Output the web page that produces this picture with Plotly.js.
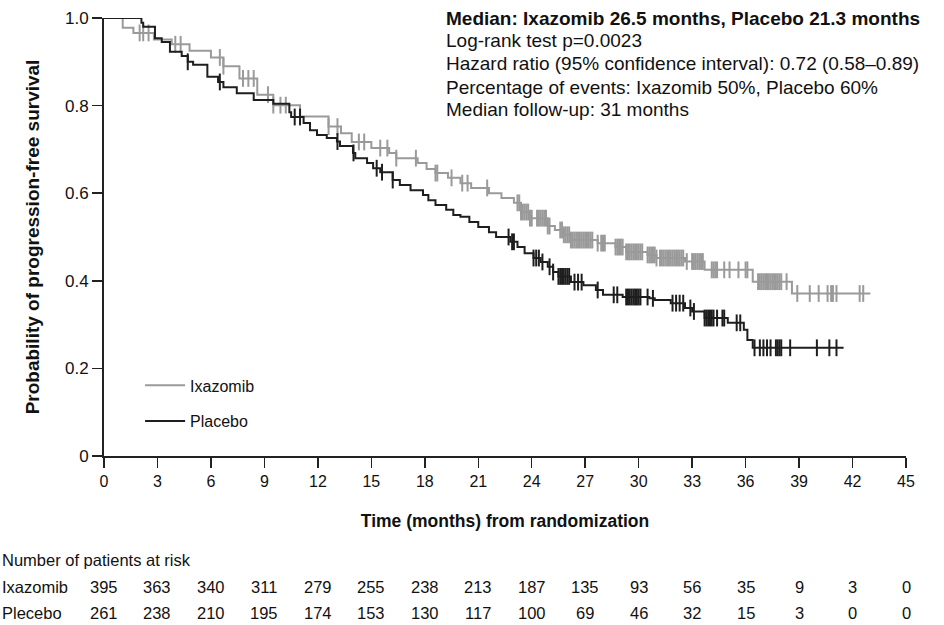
<!DOCTYPE html>
<html>
<head>
<meta charset="utf-8">
<script src="https://cdn.plot.ly/plotly-3.0.1.min.js"></script>
<style>html,body{margin:0;padding:0;background:#fff;}#chart{width:944px;height:625px;}</style>
</head>
<body>
<div id="chart"></div>
<script>
// Kaplan-Meier step data (time in months, survival probability)
const ixaTime = [0, 1.05, 1.65, 2.8, 3.8, 4.8, 6.0, 6.7, 7.6, 8.6, 9.5, 11.0, 12.6, 13.3, 13.9, 15.0, 16.0, 16.4, 17.6, 18.1, 18.6, 19.3, 20.0, 20.6, 21.6, 22.3, 23.0, 23.4, 23.9, 24.9, 25.3, 25.8, 26.2, 27.7, 28.7, 29.3, 30.5, 31.0, 32.6, 33.7, 36.4, 38.6, 43.0];
const ixaSurv = [1.0, 0.978, 0.966, 0.951, 0.94, 0.925, 0.91, 0.89, 0.862, 0.825, 0.801, 0.775, 0.752, 0.737, 0.717, 0.703, 0.692, 0.68, 0.669, 0.655, 0.646, 0.635, 0.623, 0.612, 0.6, 0.589, 0.578, 0.557, 0.543, 0.525, 0.516, 0.505, 0.493, 0.486, 0.477, 0.466, 0.459, 0.452, 0.444, 0.425, 0.398, 0.371, 0.371];
const ixaCensor = [2.0, 2.2, 2.5, 4.0, 4.3, 6.5, 6.7, 7.8, 8.1, 8.4, 9.2, 9.5, 9.9, 10.2, 12.6, 13.1, 14.3, 14.6, 15.5, 15.9, 16.4, 17.5, 18.6, 18.7, 19.5, 20.1, 20.4, 21.5, 23.2, 23.3, 23.4, 23.5, 23.6, 23.7, 23.8, 23.9, 24.0, 24.3, 24.4, 24.5, 24.6, 24.7, 24.8, 24.9, 25.0, 25.6, 25.7, 25.8, 25.9, 26.0, 26.1, 26.2, 26.3, 26.4, 26.5, 26.6, 26.7, 26.8, 26.9, 27.0, 27.1, 27.2, 27.3, 27.4, 27.7, 27.9, 28.0, 28.1, 28.7, 28.8, 28.9, 29.0, 29.1, 29.3, 29.4, 29.5, 29.6, 29.7, 29.8, 29.9, 30.0, 30.1, 30.2, 30.5, 30.6, 30.7, 30.8, 30.9, 31.0, 31.2, 31.3, 31.4, 31.5, 31.6, 31.7, 31.8, 31.9, 32.0, 32.1, 32.2, 32.3, 32.4, 32.5, 32.7, 33.0, 33.1, 33.2, 33.3, 33.4, 33.5, 33.6, 34.1, 34.2, 34.3, 34.4, 34.8, 35.1, 35.6, 36.0, 36.1, 36.7, 36.8, 36.9, 37.0, 37.1, 37.2, 37.3, 37.4, 37.5, 37.6, 37.7, 37.8, 37.9, 38.0, 38.3, 38.9, 39.6, 40.1, 40.6, 40.8, 40.9, 41.1, 42.4, 42.6];

const plaTime = [0, 2.1, 2.2, 2.86, 3.24, 3.7, 4.36, 4.7, 5.0, 5.8, 6.4, 6.7, 7.45, 8.4, 9.5, 10.4, 10.5, 11.2, 11.56, 11.95, 12.5, 13.07, 13.24, 13.97, 14.1, 14.76, 15.1, 15.5, 16.2, 16.6, 17.2, 17.9, 18.2, 18.6, 19.2, 19.6, 20.0, 20.5, 21.0, 21.6, 22.0, 22.8, 23.2, 23.6, 24.1, 24.5, 24.9, 25.2, 25.5, 26.2, 26.9, 27.6, 28.0, 29.1, 30.6, 30.9, 31.8, 32.6, 33.0, 33.7, 35.0, 35.9, 36.1, 36.4, 41.5];
const plaSurv = [1.0, 0.989, 0.98, 0.954, 0.945, 0.923, 0.913, 0.9, 0.893, 0.866, 0.854, 0.842, 0.828, 0.813, 0.804, 0.785, 0.774, 0.76, 0.744, 0.733, 0.726, 0.718, 0.708, 0.692, 0.68, 0.669, 0.657, 0.648, 0.63, 0.619, 0.607, 0.596, 0.584, 0.573, 0.562, 0.55, 0.546, 0.534, 0.523, 0.511, 0.5, 0.489, 0.477, 0.463, 0.452, 0.443, 0.432, 0.42, 0.41, 0.397, 0.39, 0.379, 0.368, 0.363, 0.36, 0.356, 0.349, 0.338, 0.33, 0.315, 0.304, 0.288, 0.265, 0.247, 0.247];
const plaCensor = [4.7, 6.5, 10.7, 11.0, 13.1, 14.0, 15.3, 15.6, 16.2, 22.7, 22.9, 23.0, 24.1, 24.25, 24.4, 24.6, 25.0, 25.2, 25.5, 25.6, 25.7, 25.8, 25.9, 26.0, 26.1, 26.4, 26.6, 26.8, 27.7, 28.6, 28.8, 29.3, 29.4, 29.5, 29.6, 29.7, 29.8, 29.9, 30.0, 30.1, 30.5, 30.8, 31.9, 32.1, 32.3, 32.5, 32.9, 33.1, 33.7, 33.8, 33.9, 34.0, 34.1, 34.2, 34.4, 34.7, 34.8, 35.5, 35.7, 36.5, 36.8, 37.0, 37.2, 37.4, 37.7, 37.8, 37.9, 38.0, 38.5, 40.0, 40.7, 41.1];

// Axis ticks
const xTicks = [0, 3, 6, 9, 12, 15, 18, 21, 24, 27, 30, 33, 36, 39, 42, 45];
const yTicks = [0, 0.2, 0.4, 0.6, 0.8, 1.0];
const yTickText = ['0', '0.2', '0.4', '0.6', '0.8', '1.0'];

// Number at risk table
const riskTimes = [0, 3, 6, 9, 12, 15, 18, 21, 24, 27, 30, 33, 36, 39, 42, 45];
const ixaRisk = [395, 363, 340, 311, 279, 255, 238, 213, 187, 135, 93, 56, 35, 9, 3, 0];
const plaRisk = [261, 238, 210, 195, 174, 153, 130, 117, 100, 69, 46, 32, 15, 3, 0, 0];

const statLines = [
  '<b>Median: Ixazomib 26.5 months, Placebo 21.3 months</b>',
  'Log-rank test p=0.0023',
  'Hazard ratio (95% confidence interval): 0.72 (0.58–0.89)',
  'Percentage of events: Ixazomib 50%, Placebo 60%',
  'Median follow-up: 31 months'
];

const GRAY = '#9a9a9a';
const BLACK = '#1e1e1e';
const FONT = 'Liberation Sans, Arial, Helvetica, sans-serif';

function survAt(T, S, t) {
  let v = S[0];
  for (let i = 0; i < T.length; i++) { if (T[i] <= t) v = S[i]; else break; }
  return v;
}

const traces = [
  {x: ixaTime, y: ixaSurv, type: 'scatter', mode: 'lines', name: 'Ixazomib', legendgroup: 'a',
   line: {shape: 'hv', color: GRAY, width: 2}},
  {x: ixaCensor, y: ixaCensor.map(t => survAt(ixaTime, ixaSurv, t)), type: 'scatter', mode: 'markers',
   showlegend: false, hoverinfo: 'skip',
   marker: {symbol: 'line-ns', size: 12, color: GRAY, line: {color: GRAY, width: 2}}},
  {x: plaTime, y: plaSurv, type: 'scatter', mode: 'lines', name: 'Placebo', legendgroup: 'b',
   line: {shape: 'hv', color: BLACK, width: 2}},
  {x: plaCensor, y: plaCensor.map(t => survAt(plaTime, plaSurv, t)), type: 'scatter', mode: 'markers',
   showlegend: false, hoverinfo: 'skip',
   marker: {symbol: 'line-ns', size: 12, color: BLACK, line: {color: BLACK, width: 2}}}
];

const annotations = [];
const statY = [1.0, 0.9475, 0.895, 0.842, 0.792];
statLines.forEach((s, i) => {
  annotations.push({xref: 'paper', yref: 'paper', x: 0.424, y: statY[i], xanchor: 'left', yanchor: 'middle',
    text: s, showarrow: false, font: {family: FONT, size: 19, color: '#111'}});
});
const pxToPaperX = px => (px - 104) / 802;
const pxToPaperY = py => (456 - py) / 438;
const TBL = 16.5;
annotations.push({xref: 'paper', yref: 'paper', x: pxToPaperX(0), y: pxToPaperY(560), xanchor: 'left', yanchor: 'middle',
  text: 'Number of patients at risk', showarrow: false, font: {family: FONT, size: TBL, color: '#111'}});
annotations.push({xref: 'paper', yref: 'paper', x: pxToPaperX(0), y: pxToPaperY(587), xanchor: 'left', yanchor: 'middle',
  text: 'Ixazomib', showarrow: false, font: {family: FONT, size: TBL, color: '#111'}});
annotations.push({xref: 'paper', yref: 'paper', x: pxToPaperX(0), y: pxToPaperY(613), xanchor: 'left', yanchor: 'middle',
  text: 'Plecebo', showarrow: false, font: {family: FONT, size: TBL, color: '#111'}});
riskTimes.forEach((t, i) => {
  annotations.push({xref: 'x', yref: 'paper', x: t, y: pxToPaperY(587), xanchor: 'center', yanchor: 'middle',
    text: String(ixaRisk[i]), showarrow: false, font: {family: FONT, size: TBL, color: '#111'}});
  annotations.push({xref: 'x', yref: 'paper', x: t, y: pxToPaperY(613), xanchor: 'center', yanchor: 'middle',
    text: String(plaRisk[i]), showarrow: false, font: {family: FONT, size: TBL, color: '#111'}});
});

const layout = {
  width: 944, height: 625,
  margin: {l: 104, r: 38, t: 18, b: 169},
  paper_bgcolor: '#fff', plot_bgcolor: '#fff',
  font: {family: FONT, color: '#111'},
  showlegend: true,
  legend: {x: 0.045, y: 0.2, xanchor: 'left', yanchor: 'top', bgcolor: 'rgba(0,0,0,0)',
    font: {family: FONT, size: 16, color: '#111'}, tracegroupgap: 12, itemwidth: 40},
  xaxis: {range: [0, 45], tickvals: xTicks, ticks: 'outside', ticklen: 10, tickwidth: 1.5, tickcolor: '#222',
    showline: true, linecolor: '#222', linewidth: 2, showgrid: false, zeroline: false, fixedrange: true,
    tickfont: {family: FONT, size: 16, color: '#111'},
    title: {text: '<b>Time (months) from randomization</b>', font: {family: FONT, size: 17.5, color: '#111'}, standoff: 26}},
  yaxis: {range: [0, 1], tickvals: yTicks, ticktext: yTickText, ticks: 'outside', ticklen: 10, tickwidth: 1.5, tickcolor: '#222',
    showline: true, linecolor: '#222', linewidth: 2, showgrid: false, zeroline: false, fixedrange: true,
    tickfont: {family: FONT, size: 17, color: '#111'},
    title: {text: '<b>Probability of progression-free survival</b>', font: {family: FONT, size: 19, color: '#111'}, standoff: 20}},
  annotations: annotations
};

Plotly.newPlot('chart', traces, layout, {displayModeBar: false, staticPlot: true});
</script>
</body>
</html>
